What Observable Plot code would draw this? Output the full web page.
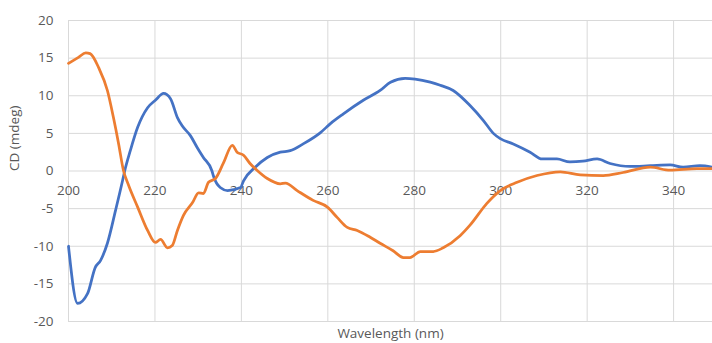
<!DOCTYPE html>
<html>
<head>
<meta charset="utf-8">
<script src="https://cdn.jsdelivr.net/npm/d3@7"></script>
<script src="https://cdn.jsdelivr.net/npm/@observablehq/plot@0.6"></script>
<style>
  html, body { margin: 0; padding: 0; background: #fff; }
  #chart { width: 712px; height: 343px; }
</style>
</head>
<body>
<div id="chart"></div>
<script>
const blueWl = [200, 202.1, 204.4, 206.2, 207.4, 209, 210.9, 212.5, 213, 214.3, 216, 218.3, 220.1, 222, 223.6, 225.2, 226.3, 228.2, 229.8, 231.2, 233.2, 233.5, 235.1, 236.8, 239.8, 240.5, 243.2, 246, 249, 251.3, 254.3, 258.3, 260.6, 263.6, 268.2, 272.1, 274.5, 277.9, 280.2, 283.7, 286, 289, 292.9, 296, 298.3, 299.9, 302.9, 306.8, 309.6, 313, 316, 319, 322.3, 325.3, 329.9, 334.6, 339.2, 342.2, 346.1, 349];
const blueCD = [-10, -17.6, -16.3, -12.8, -11.9, -9.6, -5.2, -1.3, 0, 2.7, 5.8, 8.4, 9.4, 10.3, 9.6, 7.1, 6.0, 4.7, 3.1, 1.8, 0, -0.6, -2.2, -2.6, -2.2, -1.3, 0.5, 1.8, 2.5, 2.7, 3.6, 5.1, 6.3, 7.6, 9.4, 10.7, 11.8, 12.3, 12.2, 11.8, 11.4, 10.7, 8.7, 6.7, 5.0, 4.3, 3.6, 2.5, 1.6, 1.6, 1.2, 1.3, 1.6, 1.0, 0.6, 0.7, 0.8, 0.5, 0.7, 0.5];
const orangeWl = [200, 202.3, 204, 205, 207, 209, 210.4, 211.6, 212.7, 213.9, 216, 218.3, 220.1, 221.3, 222.9, 224, 225.2, 226.6, 228.7, 230.1, 231.2, 232.4, 234, 235.8, 237.9, 239, 240.5, 242, 243.6, 246, 249, 250.2, 252.9, 256.6, 259.9, 262.2, 264.5, 266.8, 269.8, 272.1, 275.1, 277.5, 279, 281.4, 284.4, 286.7, 290.6, 292.9, 296.8, 299.9, 303.8, 308.4, 313.8, 318.4, 323.7, 328.3, 334.6, 339.2, 345.4, 349];
const orangeCD = [14.3, 15.1, 15.7, 15.6, 13.7, 10.7, 7.1, 3.6, 0.1, -1.9, -4.8, -7.9, -9.5, -9.1, -10.2, -9.9, -7.9, -5.9, -4.2, -2.9, -3.0, -1.5, -1.0, 1.0, 3.4, 2.5, 2.1, 1.0, 0.1, -1.0, -1.7, -1.6, -2.6, -3.9, -4.8, -6.2, -7.5, -7.9, -8.8, -9.6, -10.6, -11.5, -11.5, -10.7, -10.7, -10.2, -8.6, -7.2, -4.3, -2.6, -1.5, -0.6, -0.1, -0.5, -0.6, -0.2, 0.5, 0.1, 0.3, 0.3];
const xTicks = [200, 220, 240, 260, 280, 300, 320, 340];
const yTicks = [-20, -15, -10, -5, 0, 5, 10, 15, 20];
const xLabel = "Wavelength (nm)";
const yLabel = "CD (mdeg)";

const blue = blueWl.map((w, i) => ({w, v: blueCD[i]}));
const orange = orangeWl.map((w, i) => ({w, v: orangeCD[i]}));

const font = "'Open Sans', sans-serif";
const fs = 13.5;
const chart = Plot.plot({
  width: 712,
  height: 343,
  marginLeft: 68,
  marginRight: 0,
  marginTop: 20,
  marginBottom: 22,
  style: {fontFamily: font, fontSize: fs + "px", color: "#595959", background: "#fff"},
  x: {domain: [200, 349], axis: null},
  y: {domain: [-20, 20], axis: null},
  marks: [
    Plot.gridX(xTicks, {stroke: "#d9d9d9", strokeOpacity: 1, strokeWidth: 1}),
    Plot.gridY(yTicks, {stroke: "#d9d9d9", strokeOpacity: 1, strokeWidth: 1}),
    Plot.text(yTicks, {x: 200, y: d => d, text: d => String(d), textAnchor: "end", dx: -15, fill: "#595959", fontSize: fs}),
    Plot.text(xTicks, {x: d => d, y: 0, text: d => String(d), dy: 20, fill: "#595959", fontSize: fs}),
    Plot.lineY(blue, {x: "w", y: "v", stroke: "#4472C4", strokeWidth: 2.75, curve: "monotone-x"}),
    Plot.lineY(orange, {x: "w", y: "v", stroke: "#ED7D31", strokeWidth: 2.75, curve: "monotone-x"}),
    Plot.text([xLabel], {frameAnchor: "bottom", lineAnchor: "middle", text: d => d, dy: 12.5, fill: "#595959", fontSize: fs}),
    Plot.text([yLabel], {frameAnchor: "left", text: d => d, dx: -54, rotate: -90, fill: "#595959", fontSize: fs})
  ]
});
document.getElementById("chart").appendChild(chart);
</script>
</body>
</html>
